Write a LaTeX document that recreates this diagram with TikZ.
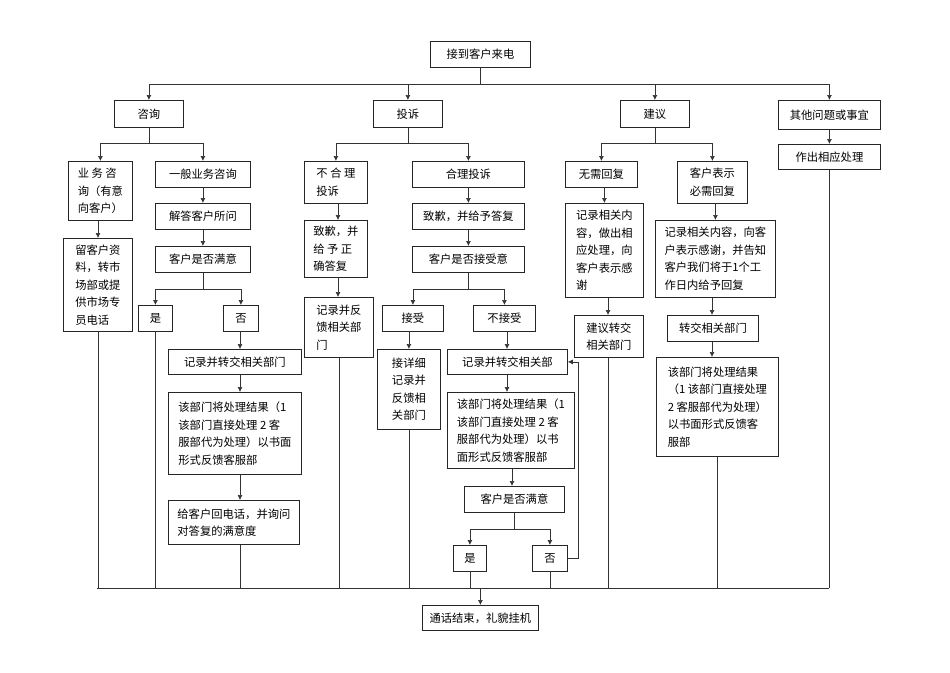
\documentclass[tikz,border=0pt]{standalone}
\usepackage{fontspec}
\setmainfont{Noto Sans CJK SC}
\usetikzlibrary{arrows.meta}
\begin{document}
\begin{tikzpicture}[x=1pt,y=-1pt,
  bx/.style={draw=black!85,line width=0.8pt,inner sep=2.5pt,align=left,
    font=\fontsize{11.3}{17.5}\selectfont},
  ln/.style={draw=black!80,line width=0.7pt},
  arr/.style={ln,-{Latex[length=5pt,width=5pt]}}]
\useasboundingbox (0,0) rectangle (950,672);
\newcommand\bx[6]{\node[bx,minimum width={(#4-#2)*1pt},minimum height={(#5-#3)*1pt},anchor=north west] (#1) at (#2,#3) {#6};}
\bx{top}{430}{41}{530}{67}{接到客户来电}
\bx{zx}{114}{100}{183}{127}{咨询}
\bx{ts}{373}{100}{442}{127}{投诉}
\bx{jy}{620}{100}{689}{127}{建议}
\bx{qt}{778}{100}{880}{129}{其他问题或事宜}
\bx{zc}{778}{144}{880}{169}{作出相应处理}
\bx{ywzx}{68}{161}{132}{220}{业 务 咨\\询（有意\\向客户）}
\bx{liu}{63}{238}{132}{331}{留客户资\\料，转市\\场部或提\\供市场专\\员电话}
\bx{ybzx}{155}{161}{250}{187}{一般业务咨询}
\bx{jd}{155}{203}{250}{229}{解答客户所问}
\bx{myl}{155}{246}{250}{272}{客户是否满意}
\bx{shiL}{138}{305}{172}{331}{是}
\bx{fouL}{223}{305}{258}{331}{否}
\bx{recL}{168}{349}{301}{374}{记录并转交相关部门}
\bx{deptL}{168}{392}{301}{474}{该部门将处理结果（1\\该部门直接处理 2 客\\服部代为处理）以书面\\形式反馈客服部}
\bx{call}{168}{500}{299}{544}{给客户回电话，并询问\\对答复的满意度}
\bx{bhl}{304}{161}{367}{203}{不 合 理\\投诉}
\bx{zqL}{304}{220}{367}{277}{致歉，并\\给 予 正\\确答复}
\bx{fkL}{304}{297}{373}{357}{记录并反\\馈相关部\\门}
\bx{hl}{412}{161}{524}{187}{合理投诉}
\bx{zqR}{412}{203}{524}{229}{致歉，并给予答复}
\bx{js}{412}{246}{524}{272}{客户是否接受意}
\bx{acc}{382}{305}{443}{331}{接受}
\bx{nacc}{473}{305}{535}{331}{不接受}
\bx{xx}{377}{349}{440}{429}{接详细\\记录并\\反馈相\\关部门}
\bx{recR}{447}{349}{567}{374}{记录并转交相关部}
\bx{deptR}{447}{392}{574}{468}{该部门将处理结果（1\\该部门直接处理 2 客\\服部代为处理）以书\\面形式反馈客服部}
\bx{myR}{464}{486}{564}{512}{客户是否满意}
\bx{shiR}{453}{545}{486}{571}{是}
\bx{fouR}{532}{545}{567}{571}{否}
\bx{wx}{565}{161}{637}{187}{无需回复}
\bx{bxh}{677}{161}{747}{203}{客户表示\\必需回复}
\bx{jl1}{565}{203}{643}{297}{记录相关内\\容，做出相\\应处理，向\\客户表示感\\谢}
\bx{jl2}{655}{220}{775}{297}{记录相关内容，向客\\户表示感谢，并告知\\客户我们将于1个工\\作日内给予回复}
\bx{jyzj}{574}{315}{643}{357}{建议转交\\相关部门}
\bx{zj}{667}{315}{758}{341}{转交相关部门}
\bx{deptJ}{656}{357}{778}{456}{该部门将处理结果\\（1 该部门直接处理\\2 客服部代为处理）\\以书面形式反馈客\\服部}
\bx{final}{422}{605}{538}{630}{通话结束，礼貌挂机}
% columns and bus
\coordinate (c98) at (98,0);
\coordinate (c240) at (240,0);
\coordinate (c338) at (338,0);
\coordinate (c507) at (507,0);
\coordinate (c512) at (512,0);
\coordinate (c608) at (608,0);
\coordinate (c712) at (712,0);
\coordinate (busL) at (97,588);
\coordinate (busR) at (829,588);
\coordinate (fb) at (578,0);
% level 1
\foreach \n in {zx,ts,jy,qt} \draw[arr] (top.south) -- ++(0,17) -| (\n.north);
\draw[arr] (qt) -- (zc);
% 咨询
\foreach \n in {ywzx,ybzx} \draw[arr] (zx.south) -- ++(0,16) -| (\n.north);
\draw[arr] (ywzx.south -| c98) -- (liu.north -| c98);
\draw[arr] (ybzx) -- (jd);
\draw[arr] (jd) -- (myl);
\foreach \n in {shiL,fouL} \draw[arr] (myl.south) -- ++(0,17) -| (\n.north);
\draw[arr] (fouL.south -| c240) -- (recL.north -| c240);
\draw[arr] (recL.south -| c240) -- (deptL.north -| c240);
\draw[arr] (deptL.south -| c240) -- (call.north -| c240);
% 投诉
\foreach \n in {bhl,hl} \draw[arr] (ts.south) -- ++(0,16) -| (\n.north);
\draw[arr] (bhl.south -| c338) -- (zqL.north -| c338);
\draw[arr] (zqL.south -| c338) -- (fkL.north -| c338);
\draw[arr] (hl) -- (zqR);
\draw[arr] (zqR) -- (js);
\foreach \n in {acc,nacc} \draw[arr] (js.south) -- ++(0,17) -| (\n.north);
\draw[arr] (acc.south -| xx.north) -- (xx.north);
\draw[arr] (nacc.south -| c507) -- (recR.north -| c507);
\draw[arr] (recR.south -| c507) -- (deptR.north -| c507);
\draw[arr] (deptR.south -| c512) -- (myR.north -| c512);
\foreach \n in {shiR,fouR} \draw[arr] (myR.south) -- ++(0,17) -| (\n.north);
\draw[arr] (fouR.east) -| (fb |- recR.east) -- (recR.east);
% 建议
\foreach \n in {wx,bxh} \draw[arr] (jy.south) -- ++(0,16) -| (\n.north);
\draw[arr] (wx.south -| jl1.north) -- (jl1.north);
\draw[arr] (bxh.south -| jl2.north) -- (jl2.north);
\draw[arr] (jl1.south -| c608) -- (jyzj.north -| c608);
\draw[arr] (jl2.south -| c712) -- (zj.north -| c712);
\draw[arr] (zj.south -| c712) -- (deptJ.north -| c712);
% to bottom bus
\draw[ln] (busL) -- (busR);
\foreach \n in {liu,shiL,fkL,xx,shiR,fouR,deptJ,zc} \draw[ln] (\n.south) -- (\n.south |- busL);
\draw[ln] (call.south -| c240) -- (busL -| c240);
\draw[ln] (jyzj.south -| c608) -- (busL -| c608);
\draw[arr] (busL -| final.north) -- (final.north);
\end{tikzpicture}
\end{document}
